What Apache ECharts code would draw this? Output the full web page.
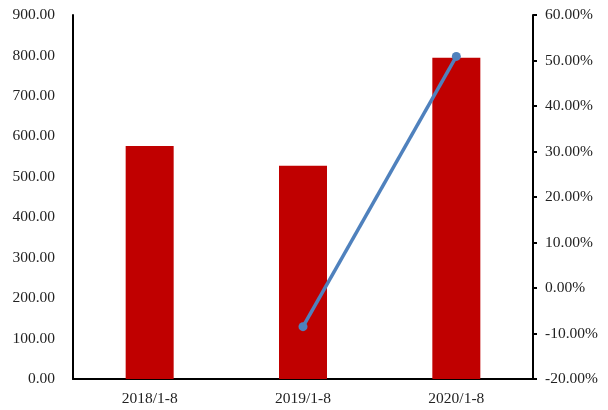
<!DOCTYPE html>
<html><head><meta charset="utf-8">
<script src="https://cdn.jsdelivr.net/npm/echarts@6/dist/echarts.min.js"></script>
<style>html,body{margin:0;padding:0;background:#fff}#c{width:608px;height:410px}</style>
</head><body><div id="c"></div>
<script>
var categories = ['2018/1-8', '2019/1-8', '2020/1-8'];
var barValues = [576, 527, 794];
var growthValues = [null, -8.5, 50.9];
var leftTicks = {min: 0, max: 900, interval: 100};
var rightTicks = {min: -20, max: 60, interval: 10};

var font = 'Liberation Serif';
var chart = echarts.init(document.getElementById('c'));
chart.setOption({
  animation: false,
  grid: {left: 73, right: 75, top: 15, bottom: 31},
  xAxis: {
    type: 'category', data: categories,
    axisLine: {lineStyle: {color: '#000', width: 2}},
    axisTick: {show: false},
    axisLabel: {color: '#222', fontFamily: font, fontSize: 15.5, margin: 12}
  },
  yAxis: [{
    type: 'value', min: leftTicks.min, max: leftTicks.max, interval: leftTicks.interval,
    axisLine: {show: true, lineStyle: {color: '#000', width: 2}},
    axisTick: {show: false},
    splitLine: {show: false},
    axisLabel: {color: '#222', fontFamily: font, fontSize: 15.5, margin: 18,
      formatter: function (v) { return v.toFixed(2); }}
  }, {
    type: 'value', min: rightTicks.min, max: rightTicks.max, interval: rightTicks.interval,
    position: 'right',
    axisLine: {show: true, lineStyle: {color: '#000', width: 2}},
    axisTick: {show: true, length: 4, lineStyle: {color: '#000', width: 2}},
    splitLine: {show: false},
    axisLabel: {color: '#222', fontFamily: font, fontSize: 15.5, margin: 12,
      formatter: function (v) { return v.toFixed(2) + '%'; }}
  }],
  series: [{
    type: 'bar', data: barValues, barWidth: 48, yAxisIndex: 0,
    itemStyle: {color: '#C00000'}
  }, {
    type: 'line', data: growthValues, yAxisIndex: 1, connectNulls: false,
    symbol: 'circle', symbolSize: 9,
    lineStyle: {color: '#4F81BD', width: 3.5},
    itemStyle: {color: '#4F81BD'}
  }]
});
</script></body></html>
